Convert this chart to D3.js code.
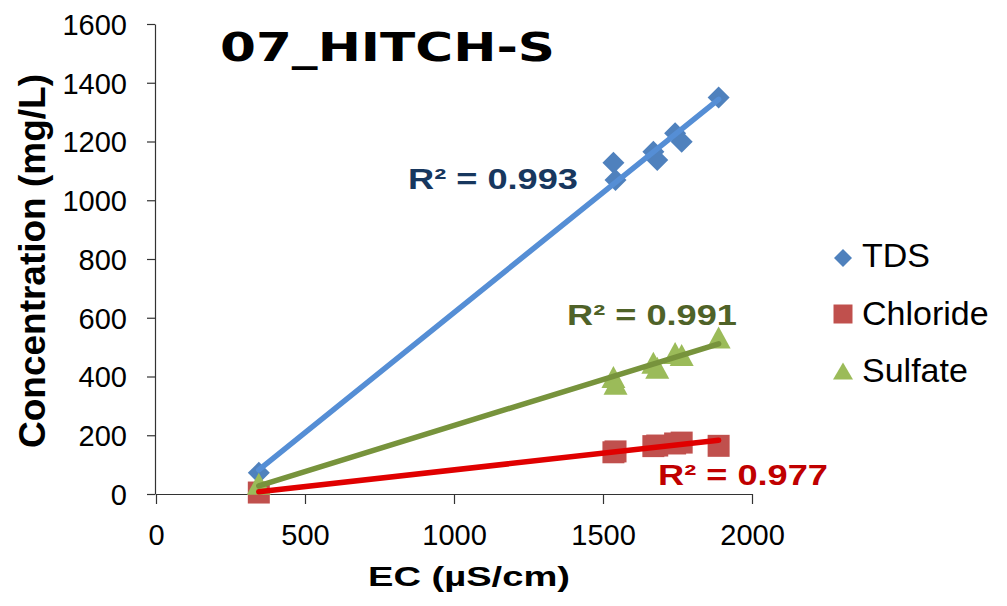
<!DOCTYPE html>
<html><head><meta charset="utf-8">
<script src="https://cdn.jsdelivr.net/npm/d3@7"></script>
<style>body{margin:0;background:#fff}</style>
</head><body>
<svg id="c" width="1007" height="606"></svg>
<script>
// ---- data ----
const ec       = [345, 1535, 1542, 1669, 1682, 1742, 1764, 1888];
const tds      = [72, 1128, 1069, 1165, 1137, 1228, 1199, 1350];
const chloride = [5, 142, 145, 163, 165, 172, 175, 164];
const sulfate  = [35, 398, 375, 447, 430, 480, 473, 533];
const seriesNames = ["TDS", "Chloride", "Sulfate"];
const r2Labels = ["R² = 0.993", "R² = 0.977", "R² = 0.991"];
const xTicks = [0, 500, 1000, 1500, 2000];
const yTicks = [0, 200, 400, 600, 800, 1000, 1200, 1400, 1600];
const title = "07_HITCH-S";
const xTitle = "EC (µS/cm)";
const yTitle = "Concentration (mg/L)";

const svg = d3.select('#c');
const x = d3.scaleLinear().domain([0, 2000]).range([156, 752]);
const y = d3.scaleLinear().domain([0, 1600]).range([494, 24]);
const font = "'Liberation Sans', Arial, sans-serif";
const fmt = d3.format('d');

// axes
const gx = svg.append('g').attr('transform', 'translate(0,494)')
  .call(d3.axisBottom(x).tickValues(xTicks).tickFormat(fmt).tickSize(10).tickSizeOuter(0).tickPadding(20));
const gy = svg.append('g').attr('transform', 'translate(155,0)')
  .call(d3.axisLeft(y).tickValues(yTicks).tickFormat(fmt).tickSize(8).tickSizeOuter(0).tickPadding(20));
[gx, gy].forEach(g => {
  g.selectAll('path,line').attr('stroke', '#333').attr('stroke-width', 1.2);
  g.selectAll('text').attr('font-family', font).attr('font-size', 29).attr('fill', '#000');
});
gy.selectAll('text').attr('dy', '0.36em');

// series definitions
const tri = (w, h) => `M0,${-h/2}L${w/2},${h/2}L${-w/2},${h/2}Z`;
const dia = (d) => `M0,${-d/2}L${d/2},0L0,${d/2}L${-d/2},0Z`;
const sq = (s) => `M${-s/2},${-s/2}h${s}v${s}h${-s}Z`;
const series = [
  {name: seriesNames[0], vals: tds, fill: '#4F81BD', line: '#558ED5', lab: '#17375E', shape: dia(22), lshape: dia(18)},
  {name: seriesNames[1], vals: chloride, fill: '#C0504D', line: '#E00000', lab: '#C00000', shape: sq(22), lshape: sq(19)},
  {name: seriesNames[2], vals: sulfate, fill: '#9BBB59', line: '#77933C', lab: '#4F6228', shape: tri(24, 22), lshape: tri(20, 17)}
];

// markers
series.forEach(s => {
  svg.append('g').selectAll('path').data(ec.map((e, i) => [e, s.vals[i]])).join('path')
    .attr('d', s.shape)
    .attr('transform', d => `translate(${x(d[0])},${y(d[1])})`)
    .attr('fill', s.fill);
});

// trendlines (least squares)
function fit(xs, ys) {
  const n = xs.length, mx = d3.mean(xs), my = d3.mean(ys);
  let sxy = 0, sxx = 0;
  for (let i = 0; i < n; i++) { sxy += (xs[i]-mx)*(ys[i]-my); sxx += (xs[i]-mx)**2; }
  const b = sxy / sxx, a = my - b*mx;
  const [x0, x1] = d3.extent(xs);
  return [[x0, a + b*x0], [x1, a + b*x1]];
}
const lineGen = d3.line().x(d => x(d[0])).y(d => y(d[1]));
[series[0], series[2], series[1]].forEach(s => {
  svg.append('path').attr('d', lineGen(fit(ec, s.vals)))
    .attr('stroke', s.line).attr('stroke-width', 5.5).attr('fill', 'none').attr('stroke-linecap', 'round');
});

// R² labels
const r2Pos = [[408, 189], [658, 485], [567, 325]];
series.forEach((s, i) => {
  svg.append('text').attr('x', r2Pos[i][0]).attr('y', r2Pos[i][1])
    .attr('font-family', font).attr('font-weight', 'bold').attr('font-size', 29)
    .attr('textLength', 170).attr('lengthAdjust', 'spacingAndGlyphs')
    .attr('fill', s.lab).text(r2Labels[i]);
});

// title
svg.append('text').attr('x', 220).attr('y', 61)
  .attr('font-family', "'DejaVu Sans', Verdana, sans-serif").attr('font-weight', 'bold').attr('font-size', 39)
  .attr('textLength', 335).attr('lengthAdjust', 'spacingAndGlyphs')
  .text(title);

// axis titles
svg.append('text').attr('x', 368).attr('y', 586)
  .attr('font-family', font).attr('font-weight', 'bold').attr('font-size', 28)
  .attr('textLength', 202).attr('lengthAdjust', 'spacingAndGlyphs').text(xTitle);
svg.append('text').attr('transform', 'translate(45,261) rotate(-90)')
  .attr('text-anchor', 'middle')
  .attr('font-family', font).attr('font-weight', 'bold').attr('font-size', 37)
  .attr('textLength', 374).attr('lengthAdjust', 'spacingAndGlyphs').text(yTitle);

// legend
const legY = [258, 314, 371];
const legBase = [267, 325, 382];
series.forEach((s, i) => {
  svg.append('path').attr('d', s.lshape).attr('transform', `translate(843,${legY[i]})`).attr('fill', s.fill);
  svg.append('text').attr('x', 862).attr('y', legBase[i])
    .attr('font-family', font).attr('font-size', 34).text(s.name);
});
</script>
</body></html>
